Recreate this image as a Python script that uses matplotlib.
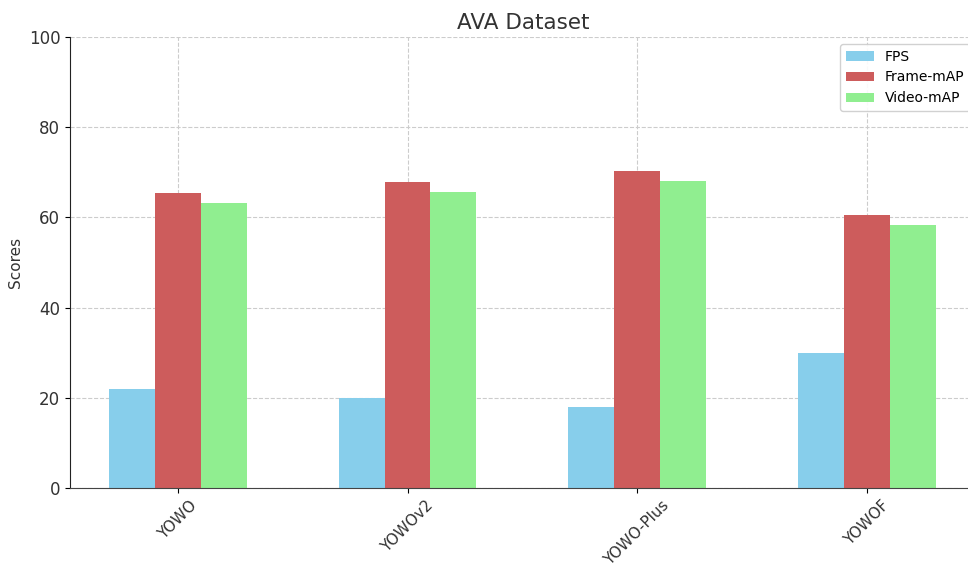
import numpy as np
import matplotlib
matplotlib.use("Agg")
import matplotlib.pyplot as plt

models = ["YOWO", "YOWOv2", "YOWO-Plus", "YOWOF"]
fps = [22, 20, 18, 30]
frame_map = [65.5, 67.8, 70.2, 60.5]
video_map = [63.2, 65.6, 68.1, 58.3]

x = np.arange(len(models))
width = 0.2

fig = plt.figure(figsize=(9.68, 5.63), dpi=100)
ax = fig.add_axes([0.0723, 0.1332, 0.937, 0.801])

ax.bar(x - width, fps, width, label="FPS", color="#87CEEB")
ax.bar(x, frame_map, width, label="Frame-mAP", color="#CD5C5C")
ax.bar(x + width, video_map, width, label="Video-mAP", color="#90EE90")

ax.set_ylim(0, 100)
ax.set_xlim(-0.47, 3.48)
ax.set_xticks(x)
ax.set_xticklabels(models, rotation=45, fontsize=11, color="#333333")
ax.tick_params(axis="y", labelsize=12, labelcolor="#333333")
ax.set_ylabel("Scores", fontsize=11, color="#333333")
ax.set_title("AVA Dataset", fontsize=15.5, color="#333333")

ax.grid(True, linestyle="--", color="#cccccc", linewidth=0.8)
ax.set_axisbelow(True)
for side in ["top", "right"]:
    ax.spines[side].set_visible(False)
ax.spines["bottom"].set_color("#444444")
ax.spines["left"].set_color("#222222")

ax.legend(loc="upper right", fontsize=10, framealpha=0.9)

fig.savefig("out.png", dpi=100)
